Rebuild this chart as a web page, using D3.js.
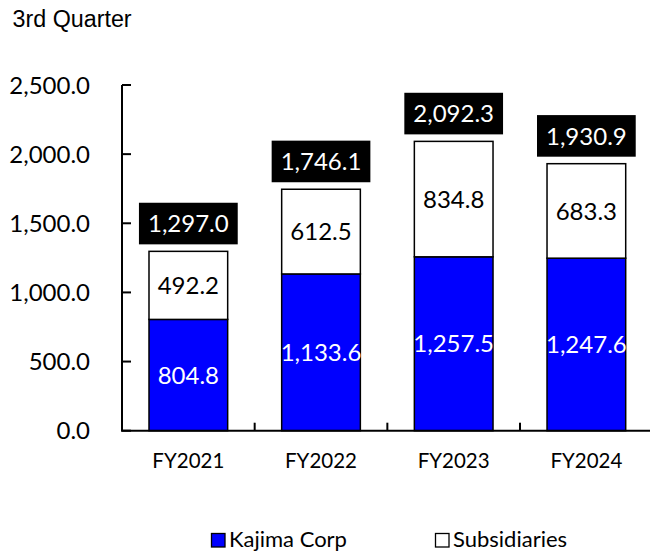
<!DOCTYPE html>
<html>
<head>
<meta charset="utf-8">
<script src="https://cdn.jsdelivr.net/npm/d3@7"></script>
<style>
  body { margin: 0; background: #fff; }
  svg { display: block; }
</style>
</head>
<body>
<svg width="650" height="551"></svg>
<script>
// Chart data.
var categories = ["FY2021", "FY2022", "FY2023", "FY2024"];
var kajima = [804.8, 1133.6, 1257.5, 1247.6];
var subsidiaries = [492.2, 612.5, 834.8, 683.3];
var totals = [1297.0, 1746.1, 2092.3, 1930.9];
var yTicks = [0, 500, 1000, 1500, 2000, 2500];
var seriesNames = ["Kajima Corp", "Subsidiaries"];
var seriesColors = ["#0000ff", "#ffffff"];

var svg = d3.select("svg");
var font = "Lato, 'Open Sans', sans-serif";
var fmt = d3.format(",.1f");

var x = d3.scaleBand()
	.domain(categories)
	.range([122, 652.7])
	.paddingInner(0.407)
	.paddingOuter(0.2035);

var y = d3.scaleLinear()
	.domain([0, 2500])
	.range([430.7, 85]);

// Title.
svg.append("text")
	.attr("x", 12.5)
	.attr("y", 26.7)
	.attr("font-family", "'Liberation Sans', Arial, sans-serif")
	.attr("font-size", 23.3)
	.text("3rd Quarter");

// Build stacked rows.
var rows = categories.map(function(c, i) {
	return { cat: c, kajima: kajima[i], subsidiaries: subsidiaries[i], total: totals[i] };
});
var stack = d3.stack().keys(["kajima", "subsidiaries"])(rows);

// Bars.
var layers = svg.append("g").selectAll("g")
	.data(stack)
	.enter()
	.append("g")
	.attr("fill", function(d, i) { return seriesColors[i]; });

layers.selectAll("rect")
	.data(function(d) { return d; })
	.enter()
	.append("rect")
	.attr("x", function(d) { return x(d.data.cat); })
	.attr("width", x.bandwidth())
	.attr("y", function(d) { return y(d[1]); })
	.attr("height", function(d) { return y(d[0]) - y(d[1]); })
	.attr("stroke", "#000")
	.attr("stroke-width", 1.5);

// Segment labels.
layers.selectAll("text")
	.data(function(d) { return d; })
	.enter()
	.append("text")
	.attr("x", function(d) { return x(d.data.cat) + x.bandwidth() / 2; })
	.attr("y", function(d) { return (y(d[0]) + y(d[1])) / 2; })
	.attr("dy", "0.36em")
	.attr("text-anchor", "middle")
	.attr("font-family", font)
	.attr("font-size", 24)
	.attr("fill", function() {
		return d3.select(this.parentNode).datum().key === "kajima" ? "#fff" : "#000";
	})
	.text(function(d) { return fmt(d[1] - d[0]); });

// Total labels in black boxes.
var totalG = svg.append("g").selectAll("g")
	.data(rows)
	.enter()
	.append("g");

var totalText = totalG.append("text")
	.attr("x", function(d) { return x(d.cat) + x.bandwidth() / 2; })
	.attr("y", function(d) { return y(d.total) - 7 - 20.8; })
	.attr("dy", "0.36em")
	.attr("text-anchor", "middle")
	.attr("font-family", font)
	.attr("font-size", 24)
	.attr("fill", "#fff")
	.text(function(d) { return fmt(d.total); });

totalText.each(function(d) {
	var bb = this.getBBox();
	d3.select(this.parentNode).insert("rect", "text")
		.attr("x", x(d.cat) + x.bandwidth() / 2 - (bb.width + 18) / 2)
		.attr("width", bb.width + 18)
		.attr("y", y(d.total) - 7 - 41.6)
		.attr("height", 41.6)
		.attr("fill", "#000");
});

// Y axis.
var yAxis = svg.append("g");
yAxis.append("line")
	.attr("x1", 122).attr("x2", 122)
	.attr("y1", y(2500)).attr("y2", y(0))
	.attr("stroke", "#000").attr("stroke-width", 2);
yAxis.selectAll("line.tick")
	.data(yTicks)
	.enter()
	.append("line")
	.attr("class", "tick")
	.attr("x1", 122).attr("x2", 131)
	.attr("y1", function(d) { return y(d); })
	.attr("y2", function(d) { return y(d); })
	.attr("stroke", "#000").attr("stroke-width", 2);
yAxis.selectAll("text")
	.data(yTicks)
	.enter()
	.append("text")
	.attr("x", 90)
	.attr("y", function(d) { return y(d); })
	.attr("dy", "0.36em")
	.attr("text-anchor", "end")
	.attr("font-family", font)
	.attr("font-size", 24)
	.text(function(d) { return fmt(d); });

// X axis.
var xAxis = svg.append("g");
xAxis.append("line")
	.attr("x1", 121).attr("x2", 652.7)
	.attr("y1", y(0)).attr("y2", y(0))
	.attr("stroke", "#000").attr("stroke-width", 2);
xAxis.selectAll("line.tick")
	.data(categories.slice(1))
	.enter()
	.append("line")
	.attr("class", "tick")
	.attr("x1", function(d) { return x(d) - x.step() * x.paddingInner() / 2; })
	.attr("x2", function(d) { return x(d) - x.step() * x.paddingInner() / 2; })
	.attr("y1", y(0)).attr("y2", y(0) - 8)
	.attr("stroke", "#000").attr("stroke-width", 2);
xAxis.selectAll("text")
	.data(categories)
	.enter()
	.append("text")
	.attr("x", function(d) { return x(d) + x.bandwidth() / 2; })
	.attr("y", 468.3)
	.attr("text-anchor", "middle")
	.attr("font-family", font)
	.attr("font-size", 20.5)
	.text(function(d) { return d; });

// Legend.
var legendX = [211.5, 435.5];
var legend = svg.append("g").selectAll("g")
	.data(seriesNames)
	.enter()
	.append("g")
	.attr("transform", function(d, i) { return "translate(" + legendX[i] + ",533.5)"; });
legend.append("rect")
	.attr("width", 13.5).attr("height", 13.5)
	.attr("fill", function(d, i) { return seriesColors[i]; })
	.attr("stroke", "#000").attr("stroke-width", 1.3);
legend.append("text")
	.attr("x", 17.5)
	.attr("y", 13.4)
	.attr("font-family", font)
	.attr("font-size", 22)
	.text(function(d) { return d; });
</script>
</body>
</html>
